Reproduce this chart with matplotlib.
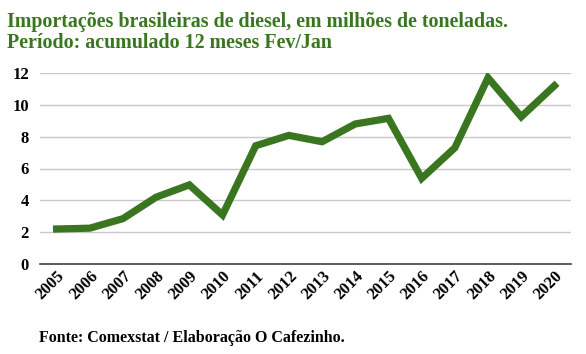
import matplotlib
matplotlib.use('Agg')
import matplotlib.pyplot as plt

plt.rcParams['font.family'] = 'Liberation Serif'
plt.rcParams['font.weight'] = 'bold'

# Data
years = ['2005', '2006', '2007', '2008', '2009', '2010', '2011', '2012',
         '2013', '2014', '2015', '2016', '2017', '2018', '2019', '2020']
imports = [2.2, 2.25, 2.85, 4.2, 4.97, 3.08, 7.43, 8.08,
           7.68, 8.8, 9.15, 5.38, 7.3, 11.7, 9.25, 11.2]
y_ticks = [0, 2, 4, 6, 8, 10, 12]

green = '#3a7620'

fig = plt.figure(figsize=(5.86, 3.54), dpi=100)
ax = fig.add_axes([40 / 586, 90 / 354, 531 / 586, 191 / 354])

x = list(range(len(years)))
ax.plot(x, imports, color=green, linewidth=5.2, solid_joinstyle='miter',
        zorder=3)

ax.set_xlim(-0.5, len(years) - 0.5)
ax.set_ylim(0, 12)
ax.set_yticks(y_ticks)
ax.set_xticks(x)
ax.set_xticklabels(years, rotation=45, ha='right', rotation_mode='anchor',
                   fontsize=12)
ax.tick_params(axis='y', labelsize=12, length=0, pad=8)
ax.tick_params(axis='x', length=0, pad=3)
ax.grid(axis='y', color='#c8c8c8', linewidth=1)
for s in ['top', 'right', 'left']:
    ax.spines[s].set_visible(False)
ax.spines['bottom'].set_color('#404040')
ax.spines['bottom'].set_linewidth(1.2)

fig.text(7 / 586, 1 - 22 / 354,
         'Importações brasileiras de diesel, em milhões de toneladas.',
         color=green, fontsize=14.4, va='center', ha='left')
fig.text(7 / 586, 1 - 43 / 354, 'Período: acumulado 12 meses Fev/Jan',
         color=green, fontsize=14.4, va='center', ha='left')
fig.text(39 / 586, 1 - 338 / 354, 'Fonte: Comexstat / Elaboração O Cafezinho.',
         fontsize=11.5, va='center', ha='left')

fig.savefig('out.png', dpi=100)
